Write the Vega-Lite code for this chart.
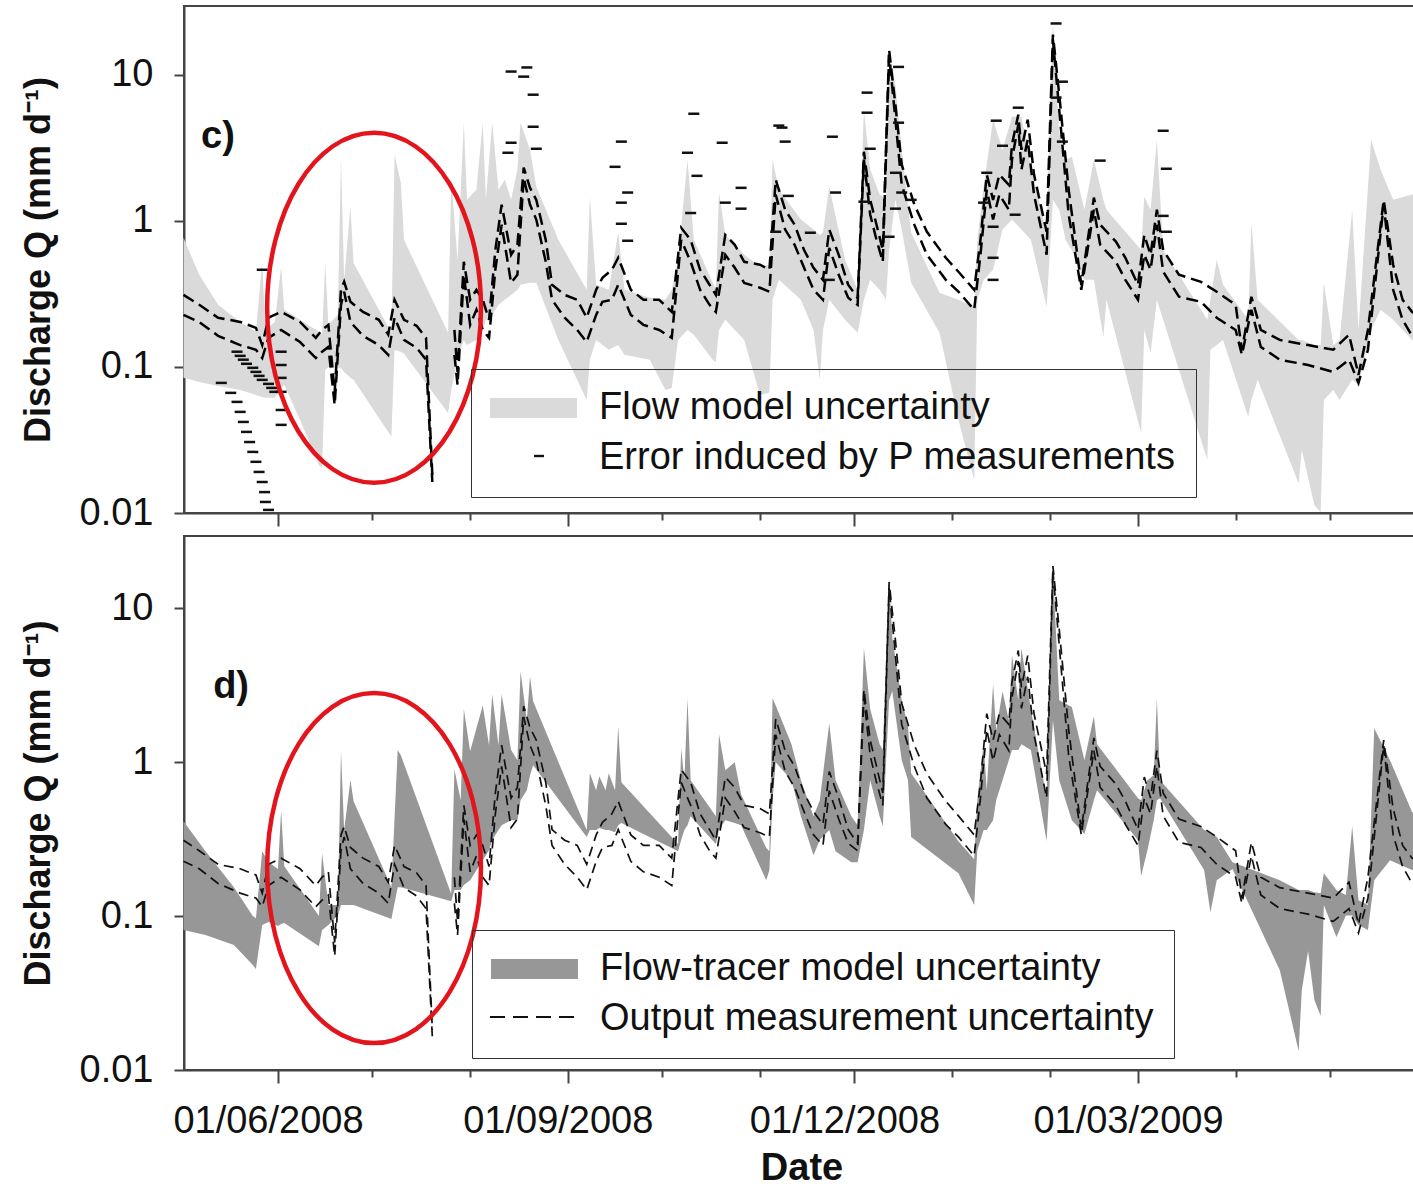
{
  "$schema": "https://vega.github.io/schema/vega-lite/v6.json",
  "usermeta": {"embedOptions": {"actions": false}},
  "padding": {"left": 19, "top": 5, "right": 0, "bottom": 0},
  "config": {
    "font": "Liberation Sans",
    "view": {"stroke": "#444", "strokeWidth": 2},
    "axis": {"grid": false, "domainColor": "#444", "domainWidth": 2, "tickColor": "#444", "tickWidth": 2, "labelColor": "#111", "titleColor": "#111", "labelFont": "Liberation Sans", "titleFont": "Liberation Sans"}
  },
  "datasets": {
    "dash": [
      {"d":"2008-05-02","a":0.311,"b":0.227,"s":1},
      {"d":"2008-05-07","a":0.266,"b":0.203,"s":1},
      {"d":"2008-05-13","a":0.217,"b":0.163,"s":1},
      {"d":"2008-05-20","a":0.203,"b":0.141,"s":1},
      {"d":"2008-05-25","a":0.185,"b":0.131,"s":1},
      {"d":"2008-05-27","a":0.141,"b":0.115,"s":1},
      {"d":"2008-05-29","a":0.217,"b":0.158,"s":1},
      {"d":"2008-06-02","a":0.238,"b":0.179,"s":1},
      {"d":"2008-06-08","a":0.203,"b":0.148,"s":1},
      {"d":"2008-06-13","a":0.158,"b":0.115,"s":1},
      {"d":"2008-06-15","a":0.179,"b":0.127,"s":1},
      {"d":"2008-06-17","a":0.194,"b":0.137,"s":1},
      {"d":"2008-06-19","a":0.0675,"b":0.0549,"s":1},
      {"d":"2008-06-21","a":0.337,"b":0.266,"s":1},
      {"d":"2008-06-22","a":0.382,"b":0.327,"s":1},
      {"d":"2008-06-24","a":0.279,"b":0.203,"s":1},
      {"d":"2008-06-28","a":0.238,"b":0.163,"s":1},
      {"d":"2008-07-03","a":0.21,"b":0.141,"s":1},
      {"d":"2008-07-06","a":0.166,"b":0.121,"s":1},
      {"d":"2008-07-08","a":0.288,"b":0.217,"s":1},
      {"d":"2008-07-11","a":0.21,"b":0.153,"s":1},
      {"d":"2008-07-15","a":0.191,"b":0.135,"s":1},
      {"d":"2008-07-18","a":0.158,"b":0.112,"s":1},
      {"d":"2008-07-20","a":0.0182,"b":0.0163,"s":1},
      {"d":"2008-07-27","a":0.179,"b":0.121,"s":2},
      {"d":"2008-07-28","a":0.0924,"b":0.0753,"s":2},
      {"d":"2008-07-30","a":0.524,"b":0.427,"s":2},
      {"d":"2008-08-01","a":0.288,"b":0.194,"s":2},
      {"d":"2008-08-03","a":0.337,"b":0.246,"s":2},
      {"d":"2008-08-05","a":0.288,"b":0.179,"s":2},
      {"d":"2008-08-07","a":0.21,"b":0.158,"s":2},
      {"d":"2008-08-09","a":0.63,"b":0.462,"s":2},
      {"d":"2008-08-11","a":1.29,"b":0.94,"s":2},
      {"d":"2008-08-14","a":0.585,"b":0.376,"s":2},
      {"d":"2008-08-16","a":0.685,"b":0.427,"s":2},
      {"d":"2008-08-18","a":2.31,"b":1.97,"s":2},
      {"d":"2008-08-20","a":1.68,"b":1.29,"s":2},
      {"d":"2008-08-22","a":1.39,"b":1.02,"s":2},
      {"d":"2008-08-25","a":0.74,"b":0.524,"s":2},
      {"d":"2008-08-27","a":0.365,"b":0.288,"s":2},
      {"d":"2008-08-31","a":0.311,"b":0.217,"s":2},
      {"d":"2008-09-04","a":0.288,"b":0.179,"s":2},
      {"d":"2008-09-07","a":0.217,"b":0.148,"s":2},
      {"d":"2008-09-10","a":0.337,"b":0.227,"s":2},
      {"d":"2008-09-12","a":0.407,"b":0.279,"s":2},
      {"d":"2008-09-15","a":0.462,"b":0.288,"s":2},
      {"d":"2008-09-17","a":0.558,"b":0.365,"s":2},
      {"d":"2008-09-21","a":0.337,"b":0.227,"s":2},
      {"d":"2008-09-25","a":0.288,"b":0.194,"s":2},
      {"d":"2008-09-30","a":0.288,"b":0.179,"s":2},
      {"d":"2008-10-04","a":0.238,"b":0.158,"s":2},
      {"d":"2008-10-07","a":0.895,"b":0.74,"s":2},
      {"d":"2008-10-10","a":0.74,"b":0.524,"s":2},
      {"d":"2008-10-13","a":0.462,"b":0.337,"s":2},
      {"d":"2008-10-16","a":0.365,"b":0.266,"s":2},
      {"d":"2008-10-18","a":0.311,"b":0.238,"s":2},
      {"d":"2008-10-21","a":0.8,"b":0.585,"s":2},
      {"d":"2008-10-24","a":0.685,"b":0.477,"s":2},
      {"d":"2008-10-27","a":0.524,"b":0.376,"s":2},
      {"d":"2008-11-01","a":0.5,"b":0.348,"s":2},
      {"d":"2008-11-04","a":0.462,"b":0.327,"s":2},
      {"d":"2008-11-06","a":1.91,"b":1.51,"s":2},
      {"d":"2008-11-09","a":1.19,"b":0.87,"s":2},
      {"d":"2008-11-12","a":0.94,"b":0.685,"s":2},
      {"d":"2008-11-15","a":0.63,"b":0.477,"s":2},
      {"d":"2008-11-18","a":0.477,"b":0.337,"s":2},
      {"d":"2008-11-21","a":0.394,"b":0.288,"s":2},
      {"d":"2008-11-23","a":0.87,"b":0.653,"s":2},
      {"d":"2008-11-26","a":0.585,"b":0.427,"s":2},
      {"d":"2008-11-29","a":0.365,"b":0.297,"s":2},
      {"d":"2008-12-02","a":0.297,"b":0.266,"s":2},
      {"d":"2008-12-04","a":2.97,"b":2.62,"s":2},
      {"d":"2008-12-06","a":1.39,"b":1.1,"s":2},
      {"d":"2008-12-08","a":0.94,"b":0.74,"s":2},
      {"d":"2008-12-10","a":0.63,"b":0.524,"s":2},
      {"d":"2008-12-12","a":14.8,"b":13.7,"s":2},
      {"d":"2008-12-14","a":6.2,"b":4.92,"s":2},
      {"d":"2008-12-16","a":2.42,"b":1.76,"s":2},
      {"d":"2008-12-20","a":1.29,"b":0.94,"s":2},
      {"d":"2008-12-24","a":0.84,"b":0.585,"s":2},
      {"d":"2008-12-30","a":0.558,"b":0.394,"s":2},
      {"d":"2009-01-03","a":0.448,"b":0.327,"s":2},
      {"d":"2009-01-08","a":0.337,"b":0.246,"s":2},
      {"d":"2009-01-10","a":0.74,"b":0.585,"s":2},
      {"d":"2009-01-12","a":2.07,"b":1.63,"s":2},
      {"d":"2009-01-14","a":1.39,"b":1.02,"s":2},
      {"d":"2009-01-16","a":2.07,"b":1.51,"s":2},
      {"d":"2009-01-19","a":1.76,"b":1.19,"s":2},
      {"d":"2009-01-20","a":3.32,"b":2.62,"s":2},
      {"d":"2009-01-22","a":5.32,"b":4.55,"s":2},
      {"d":"2009-01-23","a":3.06,"b":2.24,"s":2},
      {"d":"2009-01-25","a":4.92,"b":3.59,"s":2},
      {"d":"2009-01-27","a":2.07,"b":1.51,"s":2},
      {"d":"2009-01-31","a":0.84,"b":0.585,"s":2},
      {"d":"2009-02-02","a":18.8,"b":17.4,"s":2},
      {"d":"2009-02-04","a":7.3,"b":5.75,"s":2},
      {"d":"2009-02-07","a":1.63,"b":1.1,"s":2},
      {"d":"2009-02-11","a":0.365,"b":0.337,"s":2},
      {"d":"2009-02-15","a":1.44,"b":1.19,"s":2},
      {"d":"2009-02-17","a":0.94,"b":0.685,"s":2},
      {"d":"2009-02-22","a":0.72,"b":0.524,"s":2},
      {"d":"2009-02-25","a":0.558,"b":0.394,"s":2},
      {"d":"2009-03-01","a":0.365,"b":0.288,"s":2},
      {"d":"2009-03-03","a":0.8,"b":0.585,"s":2},
      {"d":"2009-03-05","a":0.585,"b":0.462,"s":2},
      {"d":"2009-03-07","a":1.19,"b":0.94,"s":2},
      {"d":"2009-03-09","a":0.63,"b":0.448,"s":2},
      {"d":"2009-03-14","a":0.427,"b":0.302,"s":2},
      {"d":"2009-03-21","a":0.382,"b":0.279,"s":2},
      {"d":"2009-03-26","a":0.327,"b":0.217,"s":2},
      {"d":"2009-04-01","a":0.266,"b":0.179,"s":2},
      {"d":"2009-04-03","a":0.131,"b":0.121,"s":2},
      {"d":"2009-04-06","a":0.302,"b":0.246,"s":2},
      {"d":"2009-04-09","a":0.179,"b":0.137,"s":2},
      {"d":"2009-04-15","a":0.153,"b":0.112,"s":2},
      {"d":"2009-04-24","a":0.141,"b":0.103,"s":2},
      {"d":"2009-05-02","a":0.131,"b":0.0924,"s":2},
      {"d":"2009-05-07","a":0.166,"b":0.112,"s":2},
      {"d":"2009-05-10","a":0.0882,"b":0.0777,"s":2},
      {"d":"2009-05-13","a":0.179,"b":0.131,"s":2},
      {"d":"2009-05-18","a":1.39,"b":1.29,"s":2},
      {"d":"2009-05-21","a":0.5,"b":0.337,"s":2},
      {"d":"2009-05-24","a":0.288,"b":0.21,"s":2},
      {"d":"2009-05-27","a":0.238,"b":0.163,"s":2},
      {"d":"2009-05-29","a":0.228,"b":0.158,"s":2}
    ],
    "bc": [
      {"d":"2008-05-02","q":0.765,"q2":0.0841},
      {"d":"2008-05-07","q":0.427,"q2":0.0789},
      {"d":"2008-05-13","q":0.266,"q2":0.0741},
      {"d":"2008-05-20","q":0.203,"q2":0.0695},
      {"d":"2008-05-25","q":0.174,"q2":0.0643},
      {"d":"2008-05-27","q":0.524,"q2":0.0623},
      {"d":"2008-05-28","q":0.179,"q2":0.0614},
      {"d":"2008-05-31","q":0.203,"q2":0.0614},
      {"d":"2008-06-02","q":0.484,"q2":0.0718},
      {"d":"2008-06-03","q":0.246,"q2":0.0753},
      {"d":"2008-06-08","q":0.21,"q2":0.0434},
      {"d":"2008-06-14","q":0.174,"q2":0.0213},
      {"d":"2008-06-15","q":0.168,"q2":0.0203},
      {"d":"2008-06-16","q":0.515,"q2":0.0953},
      {"d":"2008-06-17","q":0.194,"q2":0.1},
      {"d":"2008-06-20","q":0.227,"q2":0.0985},
      {"d":"2008-06-21","q":2.74,"q2":0.0985},
      {"d":"2008-06-22","q":0.394,"q2":0.0924},
      {"d":"2008-06-24","q":1.25,"q2":0.0841},
      {"d":"2008-06-25","q":0.515,"q2":0.0815},
      {"d":"2008-07-07","q":0.171,"q2":0.0332},
      {"d":"2008-07-08","q":2.83,"q2":0.131},
      {"d":"2008-07-10","q":1.82,"q2":0.127},
      {"d":"2008-07-11","q":0.74,"q2":0.123},
      {"d":"2008-07-25","q":0.171,"q2":0.0484},
      {"d":"2008-07-26","q":1.91,"q2":0.0695},
      {"d":"2008-07-28","q":0.541,"q2":0.112},
      {"d":"2008-07-30","q":4.69,"q2":0.153},
      {"d":"2008-07-31","q":1.39,"q2":0.141},
      {"d":"2008-08-03","q":1.63,"q2":0.153},
      {"d":"2008-08-05","q":4.69,"q2":0.179},
      {"d":"2008-08-06","q":1.39,"q2":0.21},
      {"d":"2008-08-08","q":4.69,"q2":0.227},
      {"d":"2008-08-10","q":1.63,"q2":0.266},
      {"d":"2008-08-12","q":1.91,"q2":0.288},
      {"d":"2008-08-14","q":1.39,"q2":0.311},
      {"d":"2008-08-16","q":2.24,"q2":0.337},
      {"d":"2008-08-17","q":4.69,"q2":0.365},
      {"d":"2008-08-20","q":3.06,"q2":0.376},
      {"d":"2008-08-22","q":1.71,"q2":0.376},
      {"d":"2008-08-29","q":0.74,"q2":0.153},
      {"d":"2008-09-07","q":0.337,"q2":0.0594},
      {"d":"2008-09-08","q":1.46,"q2":0.112},
      {"d":"2008-09-10","q":0.365,"q2":0.153},
      {"d":"2008-09-14","q":0.337,"q2":0.131},
      {"d":"2008-09-17","q":0.83,"q2":0.141},
      {"d":"2008-09-19","q":0.337,"q2":0.121},
      {"d":"2008-09-27","q":0.297,"q2":0.112},
      {"d":"2008-10-02","q":0.288,"q2":0.0695},
      {"d":"2008-10-04","q":0.337,"q2":0.0718},
      {"d":"2008-10-06","q":0.541,"q2":0.153},
      {"d":"2008-10-09","q":2.62,"q2":0.179},
      {"d":"2008-10-11","q":0.74,"q2":0.166},
      {"d":"2008-10-17","q":0.376,"q2":0.112},
      {"d":"2008-10-18","q":0.337,"q2":0.108},
      {"d":"2008-10-19","q":1.56,"q2":0.179},
      {"d":"2008-10-21","q":0.8,"q2":0.21},
      {"d":"2008-10-27","q":0.585,"q2":0.153},
      {"d":"2008-11-01","q":0.484,"q2":0.0643},
      {"d":"2008-11-04","q":0.5,"q2":0.0664},
      {"d":"2008-11-05","q":2.62,"q2":0.288},
      {"d":"2008-11-07","q":1.63,"q2":0.394},
      {"d":"2008-11-14","q":1.02,"q2":0.288},
      {"d":"2008-11-18","q":0.87,"q2":0.179},
      {"d":"2008-11-20","q":0.8,"q2":0.0815},
      {"d":"2008-11-21","q":0.83,"q2":0.179},
      {"d":"2008-11-23","q":1.71,"q2":0.288},
      {"d":"2008-11-28","q":0.541,"q2":0.21},
      {"d":"2008-12-02","q":0.337,"q2":0.171},
      {"d":"2008-12-04","q":5.75,"q2":0.288},
      {"d":"2008-12-06","q":2.24,"q2":0.394},
      {"d":"2008-12-09","q":1.51,"q2":0.337},
      {"d":"2008-12-11","q":1.39,"q2":0.288},
      {"d":"2008-12-12","q":14.8,"q2":0.63},
      {"d":"2008-12-14","q":8.54,"q2":1.39},
      {"d":"2008-12-16","q":3.06,"q2":0.87},
      {"d":"2008-12-19","q":0.83,"q2":0.376},
      {"d":"2008-12-28","q":0.321,"q2":0.171},
      {"d":"2009-01-03","q":0.288,"q2":0.0434},
      {"d":"2009-01-08","q":0.258,"q2":0.0168},
      {"d":"2009-01-09","q":0.74,"q2":0.288},
      {"d":"2009-01-11","q":1.71,"q2":0.394},
      {"d":"2009-01-14","q":4.92,"q2":0.462},
      {"d":"2009-01-17","q":3.06,"q2":0.87},
      {"d":"2009-01-20","q":5.16,"q2":1.02},
      {"d":"2009-01-23","q":5.16,"q2":0.87},
      {"d":"2009-01-26","q":2.34,"q2":0.74},
      {"d":"2009-01-31","q":0.83,"q2":0.258},
      {"d":"2009-02-02","q":22.7,"q2":1.39},
      {"d":"2009-02-04","q":4.01,"q2":1.19},
      {"d":"2009-02-06","q":2.62,"q2":0.74},
      {"d":"2009-02-08","q":2.74,"q2":0.63},
      {"d":"2009-02-12","q":1.19,"q2":0.394},
      {"d":"2009-02-15","q":2.62,"q2":0.394},
      {"d":"2009-02-18","q":1.39,"q2":0.16},
      {"d":"2009-02-19","q":1.19,"q2":0.288},
      {"d":"2009-03-02","q":0.63,"q2":0.0353},
      {"d":"2009-03-03","q":1.46,"q2":0.179},
      {"d":"2009-03-05","q":1.19,"q2":0.125},
      {"d":"2009-03-07","q":3.59,"q2":0.288},
      {"d":"2009-03-09","q":0.63,"q2":0.21},
      {"d":"2009-03-23","q":0.21,"q2":0.0231},
      {"d":"2009-03-24","q":0.288,"q2":0.131},
      {"d":"2009-03-26","q":0.541,"q2":0.141},
      {"d":"2009-03-28","q":0.365,"q2":0.153},
      {"d":"2009-04-05","q":0.21,"q2":0.0455},
      {"d":"2009-04-06","q":0.97,"q2":0.0594},
      {"d":"2009-04-08","q":0.288,"q2":0.0815},
      {"d":"2009-04-21","q":0.153,"q2":0.016},
      {"d":"2009-04-22","q":0.153,"q2":0.027},
      {"d":"2009-04-26","q":0.141,"q2":0.0113},
      {"d":"2009-04-28","q":0.141,"q2":0.0101},
      {"d":"2009-04-29","q":0.376,"q2":0.0594},
      {"d":"2009-05-02","q":0.141,"q2":0.0695},
      {"d":"2009-05-04","q":0.153,"q2":0.0594},
      {"d":"2009-05-08","q":1.19,"q2":0.0815},
      {"d":"2009-05-10","q":0.179,"q2":0.0753},
      {"d":"2009-05-14","q":3.59,"q2":0.179},
      {"d":"2009-05-17","q":2.24,"q2":0.246},
      {"d":"2009-05-21","q":1.39,"q2":0.21},
      {"d":"2009-05-27","q":1.51,"q2":0.153},
      {"d":"2009-05-29","q":1.45,"q2":0.15}
    ],
    "bd": [
      {"d":"2008-05-02","q":0.414,"q2":0.0811},
      {"d":"2008-05-09","q":0.264,"q2":0.0753},
      {"d":"2008-05-18","q":0.154,"q2":0.0648},
      {"d":"2008-05-24","q":0.1,"q2":0.0481},
      {"d":"2008-05-25","q":0.097,"q2":0.0453},
      {"d":"2008-05-27","q":0.264,"q2":0.0875},
      {"d":"2008-05-29","q":0.224,"q2":0.0914},
      {"d":"2008-06-01","q":0.202,"q2":0.0861},
      {"d":"2008-06-02","q":0.488,"q2":0.0887},
      {"d":"2008-06-03","q":0.211,"q2":0.0901},
      {"d":"2008-06-14","q":0.1,"q2":0.0638},
      {"d":"2008-06-15","q":0.256,"q2":0.0811},
      {"d":"2008-06-17","q":0.118,"q2":0.0875},
      {"d":"2008-06-20","q":0.118,"q2":0.101},
      {"d":"2008-06-21","q":1.18,"q2":0.118},
      {"d":"2008-06-22","q":0.362,"q2":0.118},
      {"d":"2008-06-24","q":0.764,"q2":0.118},
      {"d":"2008-06-25","q":0.558,"q2":0.118},
      {"d":"2008-07-07","q":0.154,"q2":0.0957},
      {"d":"2008-07-09","q":1.2,"q2":0.154},
      {"d":"2008-07-10","q":1.11,"q2":0.154},
      {"d":"2008-07-26","q":0.139,"q2":0.125},
      {"d":"2008-07-27","q":0.901,"q2":0.148},
      {"d":"2008-07-29","q":0.567,"q2":0.148},
      {"d":"2008-07-30","q":2.21,"q2":0.159},
      {"d":"2008-08-01","q":1.18,"q2":0.171},
      {"d":"2008-08-05","q":2.34,"q2":0.231},
      {"d":"2008-08-07","q":1.29,"q2":0.268},
      {"d":"2008-08-08","q":2.76,"q2":0.312},
      {"d":"2008-08-10","q":1.29,"q2":0.362},
      {"d":"2008-08-11","q":2.76,"q2":0.39},
      {"d":"2008-08-14","q":1.2,"q2":0.42},
      {"d":"2008-08-16","q":1.03,"q2":0.42},
      {"d":"2008-08-17","q":3.9,"q2":0.567},
      {"d":"2008-08-19","q":1.87,"q2":0.658},
      {"d":"2008-08-20","q":3.62,"q2":0.824},
      {"d":"2008-08-21","q":2.49,"q2":0.957},
      {"d":"2008-09-07","q":0.362,"q2":0.326},
      {"d":"2008-09-08","q":0.849,"q2":0.362},
      {"d":"2008-09-10","q":0.658,"q2":0.362},
      {"d":"2008-09-11","q":0.811,"q2":0.373},
      {"d":"2008-09-13","q":0.658,"q2":0.362},
      {"d":"2008-09-14","q":0.849,"q2":0.362},
      {"d":"2008-09-16","q":0.658,"q2":0.351},
      {"d":"2008-09-17","q":1.71,"q2":0.39},
      {"d":"2008-09-18","q":0.741,"q2":0.402},
      {"d":"2008-10-06","q":0.294,"q2":0.264},
      {"d":"2008-10-07","q":1.23,"q2":0.312},
      {"d":"2008-10-08","q":0.764,"q2":0.362},
      {"d":"2008-10-09","q":2.6,"q2":0.39},
      {"d":"2008-10-10","q":0.764,"q2":0.446},
      {"d":"2008-10-18","q":0.446,"q2":0.294},
      {"d":"2008-10-19","q":1.52,"q2":0.362},
      {"d":"2008-10-21","q":0.887,"q2":0.42},
      {"d":"2008-10-24","q":1.0,"q2":0.402},
      {"d":"2008-10-26","q":0.62,"q2":0.39},
      {"d":"2008-11-03","q":0.277,"q2":0.171},
      {"d":"2008-11-04","q":0.264,"q2":0.199},
      {"d":"2008-11-05","q":2.6,"q2":0.567},
      {"d":"2008-11-06","q":2.34,"q2":1.0},
      {"d":"2008-11-11","q":1.31,"q2":0.764},
      {"d":"2008-11-14","q":0.764,"q2":0.446},
      {"d":"2008-11-18","q":0.446,"q2":0.249},
      {"d":"2008-11-20","q":0.567,"q2":0.312},
      {"d":"2008-11-23","q":1.79,"q2":0.362},
      {"d":"2008-11-25","q":0.764,"q2":0.264},
      {"d":"2008-11-30","q":0.446,"q2":0.224},
      {"d":"2008-12-02","q":0.39,"q2":0.224},
      {"d":"2008-12-04","q":5.5,"q2":0.362},
      {"d":"2008-12-06","q":2.21,"q2":0.764},
      {"d":"2008-12-09","q":1.31,"q2":0.446},
      {"d":"2008-12-10","q":1.2,"q2":0.384},
      {"d":"2008-12-12","q":15.2,"q2":2.53},
      {"d":"2008-12-13","q":6.48,"q2":2.89},
      {"d":"2008-12-16","q":2.53,"q2":1.03},
      {"d":"2008-12-18","q":1.71,"q2":0.764},
      {"d":"2008-12-19","q":0.849,"q2":0.326},
      {"d":"2009-01-03","q":0.307,"q2":0.19},
      {"d":"2009-01-08","q":0.234,"q2":0.118},
      {"d":"2009-01-09","q":0.567,"q2":0.268},
      {"d":"2009-01-11","q":1.31,"q2":0.362},
      {"d":"2009-01-12","q":0.658,"q2":0.362},
      {"d":"2009-01-14","q":3.21,"q2":0.42},
      {"d":"2009-01-15","q":1.61,"q2":0.567},
      {"d":"2009-01-17","q":2.89,"q2":0.764},
      {"d":"2009-01-19","q":1.87,"q2":1.03},
      {"d":"2009-01-20","q":4.95,"q2":1.2},
      {"d":"2009-01-22","q":2.53,"q2":1.2},
      {"d":"2009-01-23","q":5.5,"q2":1.31},
      {"d":"2009-01-26","q":2.21,"q2":1.2},
      {"d":"2009-01-31","q":0.584,"q2":0.307},
      {"d":"2009-02-02","q":17.9,"q2":1.87},
      {"d":"2009-02-04","q":2.53,"q2":0.764},
      {"d":"2009-02-08","q":2.28,"q2":0.42},
      {"d":"2009-02-12","q":1.03,"q2":0.341},
      {"d":"2009-02-15","q":1.99,"q2":0.567},
      {"d":"2009-02-16","q":1.31,"q2":0.658},
      {"d":"2009-03-01","q":0.584,"q2":0.312},
      {"d":"2009-03-02","q":0.567,"q2":0.182},
      {"d":"2009-03-04","q":0.764,"q2":0.268},
      {"d":"2009-03-06","q":0.824,"q2":0.42},
      {"d":"2009-03-07","q":2.6,"q2":0.567},
      {"d":"2009-03-08","q":0.764,"q2":0.584},
      {"d":"2009-03-22","q":0.362,"q2":0.199},
      {"d":"2009-03-24","q":0.351,"q2":0.106},
      {"d":"2009-03-26","q":0.326,"q2":0.171},
      {"d":"2009-03-31","q":0.224,"q2":0.202},
      {"d":"2009-04-15","q":0.171,"q2":0.0446},
      {"d":"2009-04-21","q":0.148,"q2":0.0133},
      {"d":"2009-04-22","q":0.148,"q2":0.033},
      {"d":"2009-04-24","q":0.148,"q2":0.0593},
      {"d":"2009-04-26","q":0.143,"q2":0.0285},
      {"d":"2009-04-28","q":0.141,"q2":0.0224},
      {"d":"2009-04-29","q":0.19,"q2":0.118},
      {"d":"2009-05-03","q":0.148,"q2":0.0731},
      {"d":"2009-05-06","q":0.137,"q2":0.101},
      {"d":"2009-05-08","q":0.384,"q2":0.101},
      {"d":"2009-05-10","q":0.127,"q2":0.0875},
      {"d":"2009-05-13","q":0.118,"q2":0.0811},
      {"d":"2009-05-15","q":1.66,"q2":0.171},
      {"d":"2009-05-20","q":1.03,"q2":0.231},
      {"d":"2009-05-27","q":0.474,"q2":0.199},
      {"d":"2009-05-29","q":0.46,"q2":0.195}
    ],
    "pt": [
      {"d":"2008-05-14","q":0.0777},{"d":"2008-05-17","q":0.0664},{"d":"2008-05-19","q":0.0576},{"d":"2008-05-20","q":0.0492},
      {"d":"2008-05-21","q":0.042},{"d":"2008-05-22","q":0.0359},{"d":"2008-05-23","q":0.0306},{"d":"2008-05-24","q":0.0262},
      {"d":"2008-05-25","q":0.0224},{"d":"2008-05-26","q":0.0191},{"d":"2008-05-27","q":0.0163},{"d":"2008-05-27T18:00:00Z","q":0.0139},
      {"d":"2008-05-28","q":0.0119},{"d":"2008-05-29","q":0.0105},
      {"d":"2008-05-19","q":0.127},{"d":"2008-05-20","q":0.119},{"d":"2008-05-21","q":0.112},{"d":"2008-05-22","q":0.105},
      {"d":"2008-05-24","q":0.0985},{"d":"2008-05-25","q":0.0924},{"d":"2008-05-26","q":0.0868},{"d":"2008-05-27","q":0.0815},
      {"d":"2008-05-29","q":0.0765},{"d":"2008-05-30","q":0.0718},{"d":"2008-05-31","q":0.0675},
      {"d":"2008-06-02","q":0.127},{"d":"2008-06-02","q":0.103},{"d":"2008-06-02","q":0.0841},{"d":"2008-06-02","q":0.0675},
      {"d":"2008-06-02","q":0.0507},{"d":"2008-06-02","q":0.0401},{"d":"2008-05-27","q":0.462},
      {"d":"2008-08-14","q":10.5},{"d":"2008-08-19","q":11.2},{"d":"2008-08-18","q":9.69},{"d":"2008-08-21","q":7.29},
      {"d":"2008-08-21","q":4.4},{"d":"2008-08-14","q":3.42},{"d":"2008-08-13","q":2.92},{"d":"2008-08-22","q":3.11},
      {"d":"2008-09-18","q":3.48},{"d":"2008-09-16","q":2.34},{"d":"2008-09-20","q":1.56},{"d":"2008-09-18","q":1.33},
      {"d":"2008-09-18","q":0.954},{"d":"2008-09-20","q":0.73},
      {"d":"2008-10-11","q":5.41},{"d":"2008-10-09","q":2.92},{"d":"2008-10-12","q":2.03},{"d":"2008-10-10","q":1.13},
      {"d":"2008-10-20","q":3.42},{"d":"2008-10-21","q":1.33},{"d":"2008-10-26","q":1.68},{"d":"2008-10-26","q":1.21},
      {"d":"2008-11-07","q":4.48},{"d":"2008-11-08","q":4.34},{"d":"2008-11-09","q":3.48},{"d":"2008-11-10","q":1.48},
      {"d":"2008-11-06","q":0.841},{"d":"2008-11-17","q":0.828},{"d":"2008-11-24","q":3.76},{"d":"2008-11-25","q":1.56},
      {"d":"2008-11-23","q":0.394},
      {"d":"2008-12-05","q":7.53},{"d":"2008-12-05","q":5.49},{"d":"2008-12-06","q":3.11},{"d":"2008-12-04","q":1.35},
      {"d":"2008-12-15","q":11.3},{"d":"2008-12-15","q":4.69},{"d":"2008-12-14","q":2.13},{"d":"2008-12-16","q":1.56},
      {"d":"2008-12-19","q":1.39},{"d":"2008-12-14","q":1.21},{"d":"2008-12-12","q":0.777},
      {"d":"2009-01-15","q":4.84},{"d":"2009-01-17","q":3.26},{"d":"2009-01-12","q":2.13},{"d":"2009-01-11","q":1.33},
      {"d":"2009-01-14","q":0.91},{"d":"2009-01-14","q":0.558},{"d":"2009-01-14","q":0.394},
      {"d":"2009-01-22","q":5.94},{"d":"2009-01-21","q":1.1},
      {"d":"2009-02-03","q":22.4},{"d":"2009-02-05","q":8.95},{"d":"2009-02-03","q":6.96},{"d":"2009-02-05","q":3.48},
      {"d":"2009-02-17","q":2.58},
      {"d":"2009-03-09","q":4.13},{"d":"2009-03-10","q":2.27},{"d":"2009-03-09","q":1.08},{"d":"2009-03-10","q":0.841}
    ],
    "elc": [{"d":"2008-07-01T12:00:00Z","q":0.254}],
    "eld": [{"d":"2008-07-01T12:00:00Z","q":0.205}],
    "labc": [{"d":"2008-05-07T14:00:00Z","q":3.16,"t":"c)"}],
    "labd": [{"d":"2008-05-11T10:00:00Z","q":2.6,"t":"d)"}]
  },
  "spacing": 23,
  "bounds": "flush",
  "resolve": {"scale": {"color": "independent", "opacity": "independent"}, "legend": {"color": "independent", "opacity": "independent"}},
  "vconcat": [
    {
      "width": 1235,
      "height": 507,
      "encoding": {
        "x": {"field": "d", "type": "temporal",
          "scale": {"type": "utc", "domain": [{"year": 2008, "month": 5, "date": 2, "hours": 4, "utc": true}, {"year": 2009, "month": 5, "date": 29, "hours": 5, "utc": true}]},
          "axis": {"labels": false, "title": null, "tickCount": {"interval": "month", "step": 1},
            "tickSize": {"condition": {"test": "utcmonth(datum.value) % 3 == 2", "value": 13}, "value": 7}}},
        "y": {"field": "q", "type": "quantitative",
          "scale": {"type": "log", "domain": [0.01, 29.5], "nice": false},
          "axis": {"values": [0.01, 0.1, 1, 10], "format": "~g", "tickSize": 10, "labelFontSize": 38, "labelPadding": 21,
            "title": "Discharge Q (mm d⁻¹)", "titleFontSize": 36, "titleFontWeight": "bold", "titlePadding": 22}}
      },
      "layer": [
        {"data": {"name": "bc"}, "mark": {"type": "area", "opacity": 1},
          "encoding": {"y2": {"field": "q2"},
            "color": {"datum": "Flow model uncertainty",
              "scale": {"domain": ["Flow model uncertainty", "Error induced by P measurements"], "range": ["#dadada", "transparent"]},
              "legend": {"orient": "none", "legendX": 287, "legendY": 363, "title": null,
                "labelFontSize": 38, "labelFont": "Liberation Sans", "labelColor": "#111", "labelLimit": 1000,
                "symbolType": "M -2 -1 L 6.7 -1 L 6.7 1 L -2 1 Z", "symbolSize": 400, "symbolStrokeWidth": 0, "symbolOpacity": 1,
                "labelOffset": 70, "rowPadding": 12, "padding": 20, "strokeColor": "#333"}}}},
        {"data": {"name": "dash"}, "transform": [{"fold": ["a", "b"], "as": ["k", "q"]}],
          "mark": {"type": "line", "color": "#000", "strokeWidth": 2.5, "strokeDash": [12, 6]},
          "encoding": {"detail": [{"field": "k"}, {"field": "s"}]}},
        {"data": {"name": "pt"}, "mark": {"type": "tick", "orient": "horizontal", "size": 11, "thickness": 2.5, "color": "#111"},
          "encoding": {"opacity": {"datum": "Error induced by P measurements", "type": "nominal", "scale": {"range": [1]},
              "legend": {"orient": "none", "legendX": 345, "legendY": 440, "title": null, "labelExpr": "''", "labelFontSize": 10,
                "symbolType": "M -0.5 -0.12 L 0.5 -0.12 L 0.5 0.12 L -0.5 0.12 Z", "symbolSize": 400, "symbolStrokeWidth": 0,
                "symbolFillColor": "#111", "padding": 0}}}},
        {"data": {"name": "elc"}, "mark": {"type": "point", "shape": "M -0.611 0 A 0.611 1 0 1 1 0.611 0 A 0.611 1 0 1 1 -0.611 0 Z", "size": 122500, "filled": false, "color": "#e3141c", "strokeWidth": 4.5, "opacity": 1}},
        {"data": {"name": "labc"}, "mark": {"type": "text", "align": "left", "baseline": "alphabetic", "fontSize": 38, "fontWeight": "bold", "font": "Liberation Sans", "color": "#111"},
          "encoding": {"text": {"field": "t"}}}
      ]
    },
    {
      "width": 1235,
      "height": 534,
      "encoding": {
        "x": {"field": "d", "type": "temporal",
          "scale": {"type": "utc", "domain": [{"year": 2008, "month": 5, "date": 2, "hours": 4, "utc": true}, {"year": 2009, "month": 5, "date": 29, "hours": 5, "utc": true}]},
          "axis": {"tickCount": {"interval": "month", "step": 1},
            "tickSize": {"condition": {"test": "utcmonth(datum.value) % 3 == 2", "value": 13}, "value": 7},
            "labelExpr": "utcmonth(datum.value) % 3 == 2 ? utcFormat(datum.value, '%d/%m/%Y') : ''",
            "labelFontSize": 38, "labelPadding": 19, "labelOffset": -10, "labelLimit": 400, "labelOverlap": false, "labelFlush": false, "labelBound": false,
            "title": "Date", "titleFontSize": 38, "titleFontWeight": "bold", "titlePadding": 9}},
        "y": {"field": "q", "type": "quantitative",
          "scale": {"type": "log", "domain": [0.01, 29.5], "nice": false},
          "axis": {"values": [0.01, 0.1, 1, 10], "format": "~g", "tickSize": 10, "labelFontSize": 38, "labelPadding": 21,
            "title": "Discharge Q (mm d⁻¹)", "titleFontSize": 36, "titleFontWeight": "bold", "titlePadding": 22}}
      },
      "layer": [
        {"data": {"name": "bd"}, "mark": {"type": "area", "opacity": 1},
          "encoding": {"y2": {"field": "q2"},
            "color": {"datum": "Flow-tracer model uncertainty",
              "scale": {"domain": ["Flow-tracer model uncertainty", "Output measurement uncertainty"], "range": ["#979797", "transparent"]},
              "legend": {"orient": "none", "legendX": 288, "legendY": 394, "title": null,
                "labelFontSize": 38, "labelFont": "Liberation Sans", "labelColor": "#111", "labelLimit": 1000,
                "symbolType": "M -2 -1 L 6.7 -1 L 6.7 1 L -2 1 Z", "symbolSize": 400, "symbolStrokeWidth": 0, "symbolOpacity": 1,
                "labelOffset": 70, "rowPadding": 12, "padding": 20, "strokeColor": "#333"}}}},
        {"data": {"name": "dash"}, "transform": [{"fold": ["a", "b"], "as": ["k", "q"]}],
          "mark": {"type": "line", "color": "#111", "strokeWidth": 1.7, "strokeDash": [10, 6]},
          "encoding": {"detail": [{"field": "k"}, {"field": "s"}],
            "opacity": {"datum": "Output measurement uncertainty", "type": "nominal", "scale": {"range": [1]},
              "legend": {"orient": "none", "legendX": 306, "legendY": 470, "title": null, "labelExpr": "''", "labelFontSize": 10,
                "symbolType": "M -1.1 0 L 7.6 0", "symbolSize": 400, "symbolStrokeWidth": 1.8, "symbolStrokeColor": "#111",
                "symbolDash": [15, 8], "padding": 0}}}},
        {"data": {"name": "eld"}, "mark": {"type": "point", "shape": "M -0.611 0 A 0.611 1 0 1 1 0.611 0 A 0.611 1 0 1 1 -0.611 0 Z", "size": 122500, "filled": false, "color": "#e3141c", "strokeWidth": 4.5, "opacity": 1}},
        {"data": {"name": "labd"}, "mark": {"type": "text", "align": "left", "baseline": "alphabetic", "fontSize": 38, "fontWeight": "bold", "font": "Liberation Sans", "color": "#111"},
          "encoding": {"text": {"field": "t"}}}
      ]
    }
  ]
}
